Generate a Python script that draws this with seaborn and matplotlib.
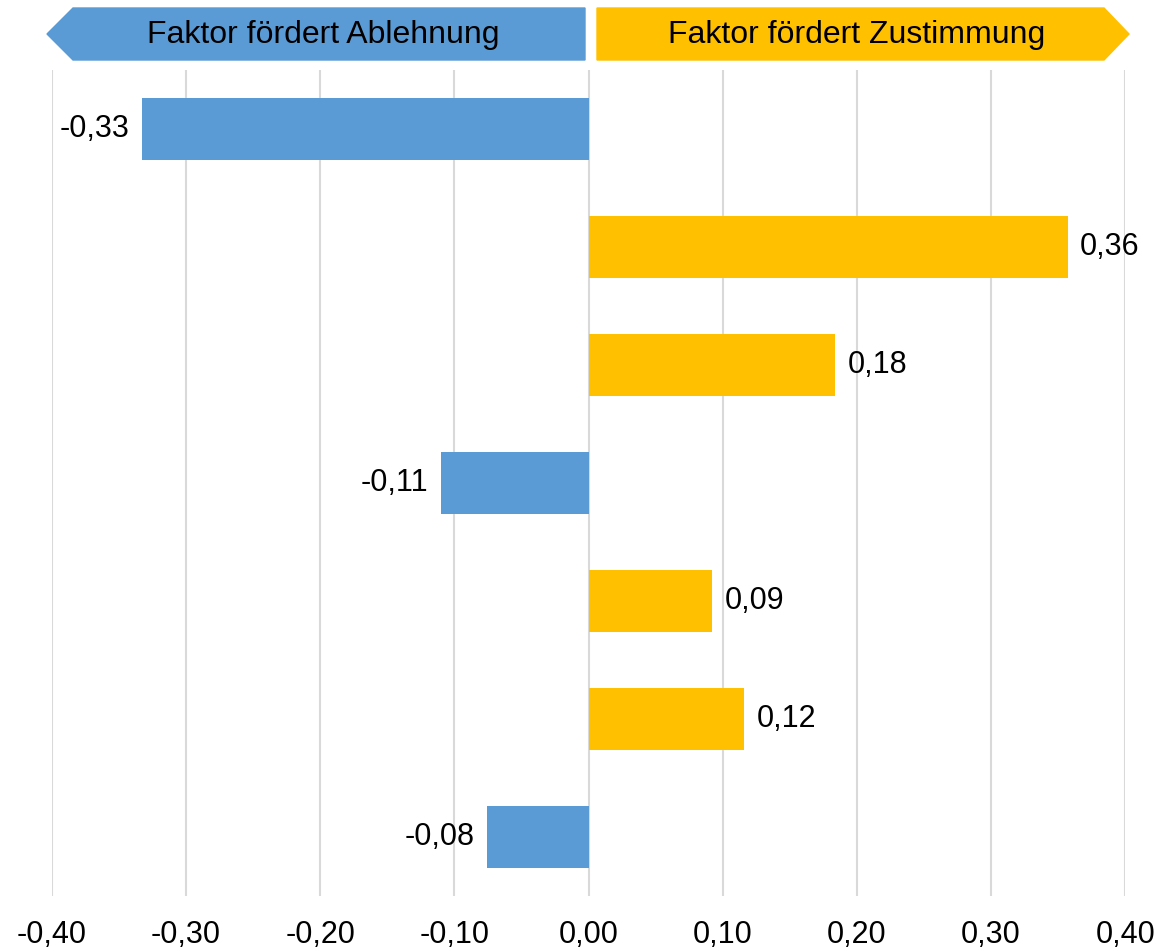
import numpy as np
import pandas as pd
import seaborn as sns
from matplotlib import pyplot as plt
from matplotlib.patches import Polygon

# values, top to bottom
faktoren = ['F1', 'F2', 'F3', 'F4', 'F5', 'F6', 'F7']
werte = [-0.333, 0.357, 0.184, -0.110, 0.092, 0.116, -0.076]
ticks = [-0.4, -0.3, -0.2, -0.1, 0.0, 0.1, 0.2, 0.3, 0.4]
banner_links = 'Faktor fördert Ablehnung'
banner_rechts = 'Faktor fördert Zustimmung'

blau = '#5B9BD5'
gelb = '#FFC000'

df = pd.DataFrame({'faktor': faktoren, 'wert': werte})
df['richtung'] = np.where(df['wert'] < 0, 'neg', 'pos')

sns.set_style('white')
plt.rcParams['font.family'] = ['Liberation Sans', 'DejaVu Sans']
plt.rcParams['text.color'] = 'black'
plt.rcParams['xtick.color'] = 'black'

fig = plt.figure(figsize=(11.6, 9.51), dpi=100)
ax = fig.add_axes([0.0448, 0.0578, 0.9252, 0.8686])

sns.barplot(data=df, x='wert', y='faktor', hue='richtung', orient='h',
            palette={'neg': blau, 'pos': gelb}, dodge=False, width=0.525,
            saturation=1, linewidth=0, legend=False, ax=ax, zorder=3)

for cont in ax.containers:
    ax.bar_label(cont, labels=[('%.2f' % v).replace('.', ',') if not np.isnan(v) else ''
                               for v in cont.datavalues],
                 padding=9, fontsize=22, color='black')

ax.set_xlim(-0.4, 0.4)
ax.set_ylim(6.5, -0.5)
ax.set_xticks(ticks)
ax.set_xticklabels([('%.2f' % t).replace('.', ',') for t in ticks], fontsize=22)
ax.set_yticks([])
ax.set_xlabel('')
ax.set_ylabel('')
ax.tick_params(axis='x', length=0, pad=17)
ax.grid(axis='x', color='#d9d9d9', linewidth=1.5, zorder=0)
ax.set_axisbelow(True)
sns.despine(ax=ax, left=True, bottom=True)


# banner arrows on top, in pixel coords converted to figure fraction
def px(x, y):
    return (x / 1160, 1 - y / 951)


links = Polygon([px(47, 34), px(73, 8), px(585, 8), px(585, 60), px(73, 60)],
                closed=True, transform=fig.transFigure, color=blau, zorder=5)
rechts = Polygon([px(597, 8), px(1104, 8), px(1129, 34), px(1104, 60), px(597, 60)],
                 closed=True, transform=fig.transFigure, color=gelb, zorder=5)
fig.patches.extend([links, rechts])
fig.text(*px(323, 35), banner_links, ha='center', va='center', fontsize=23, zorder=6)
fig.text(*px(857, 35), banner_rechts, ha='center', va='center', fontsize=23, zorder=6)

fig.savefig('out.png', dpi=100)
